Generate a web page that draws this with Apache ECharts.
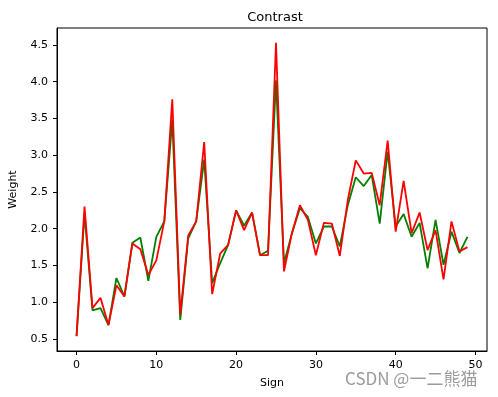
<!DOCTYPE html>
<html>
<head>
<meta charset="utf-8">
<script src="https://cdn.jsdelivr.net/npm/echarts@6/dist/echarts.min.js"></script>
<style>
  html, body { margin: 0; padding: 0; background: #fff; }
  #main { width: 498px; height: 397px; }
</style>
</head>
<body>
<div id="main"></div>
<script>
// x values 0..49
var signs = [];
for (var i = 0; i < 50; i++) signs.push(i);

var greenWeights = [0.54, 2.20, 0.89, 0.92, 0.69, 1.33, 1.08, 1.81, 1.88, 1.29,
  1.89, 2.10, 3.48, 0.76, 1.87, 2.10, 2.94, 1.26, 1.53, 1.78,
  2.25, 2.04, 2.22, 1.64, 1.70, 4.02, 1.53, 1.94, 2.28, 2.16,
  1.80, 2.03, 2.03, 1.76, 2.32, 2.70, 2.58, 2.73, 2.07, 3.05,
  2.03, 2.20, 1.89, 2.08, 1.46, 2.12, 1.51, 1.96, 1.67, 1.89];

var redWeights = [0.54, 2.30, 0.92, 1.06, 0.69, 1.23, 1.08, 1.80, 1.72, 1.37,
  1.57, 2.10, 3.76, 0.83, 1.91, 2.10, 3.18, 1.11, 1.66, 1.78,
  2.25, 1.98, 2.22, 1.64, 1.64, 4.53, 1.42, 1.94, 2.32, 2.12,
  1.64, 2.08, 2.07, 1.63, 2.39, 2.93, 2.75, 2.76, 2.32, 3.20,
  1.96, 2.65, 1.94, 2.22, 1.71, 1.98, 1.31, 2.10, 1.69, 1.75];

var xTicks = [0, 10, 20, 30, 40, 50];
var yTicks = [0.5, 1.0, 1.5, 2.0, 2.5, 3.0, 3.5, 4.0, 4.5];

function pairs(ys) {
  var out = [];
  for (var i = 0; i < signs.length; i++) out.push([signs[i], ys[i]]);
  return out;
}

var chart = echarts.init(document.getElementById('main'));
var font = 'DejaVu Sans';
var option = {
  animation: false,
  backgroundColor: '#fff',
  textStyle: { fontFamily: font },
  title: {
    text: 'Contrast',
    left: 270,
    top: 6,
    textAlign: 'center',
    textStyle: { fontFamily: font, fontSize: 13, fontWeight: 'normal', color: '#000' }
  },
  grid: { left: 53, right: 11, top: 28, bottom: 46, containLabel: false,
    show: true, borderColor: '#000', borderWidth: 1 },
  xAxis: {
    type: 'value',
    min: -2.45,
    max: 51.45,
    name: 'Sign',
    nameLocation: 'middle',
    nameGap: 27,
    nameTextStyle: { fontFamily: font, fontSize: 11, color: '#000' },
    axisLine: { show: true, onZero: false, lineStyle: { color: '#000', width: 1 } },
    axisTick: { show: true, length: 4, customValues: xTicks, lineStyle: { color: '#000' } },
    axisLabel: { customValues: xTicks, fontFamily: font, fontSize: 11, color: '#000', margin: 9 },
    splitLine: { show: false }
  },
  yAxis: {
    type: 'value',
    min: 0.337,
    max: 4.73,
    name: 'Weight',
    nameLocation: 'middle',
    nameGap: 38,
    nameTextStyle: { fontFamily: font, fontSize: 11, color: '#000' },
    axisLine: { show: true, onZero: false, lineStyle: { color: '#000', width: 1 } },
    axisTick: { show: true, length: 4, customValues: yTicks, lineStyle: { color: '#000' } },
    axisLabel: { customValues: yTicks, fontFamily: font, fontSize: 11, color: '#000', margin: 9,
      formatter: function (v) { return v.toFixed(1); } },
    splitLine: { show: false }
  },
  series: [
    {
      name: 'green',
      type: 'line',
      data: pairs(greenWeights),
      showSymbol: false,
      lineStyle: { color: '#008000', width: 1.8 },
      z: 2
    },
    {
      name: 'red',
      type: 'line',
      data: pairs(redWeights),
      showSymbol: false,
      lineStyle: { color: '#ff0000', width: 1.8 },
      z: 3
    }
  ],
  graphic: [
    {
      type: 'text',
      left: 345,
      top: 370,
      style: { text: 'CSDN @一二熊猫', fill: 'rgba(120,120,120,0.75)',
        font: '17px "Noto Sans CJK SC", sans-serif' }
    }
  ]
};
chart.setOption(option);
</script>
</body>
</html>
